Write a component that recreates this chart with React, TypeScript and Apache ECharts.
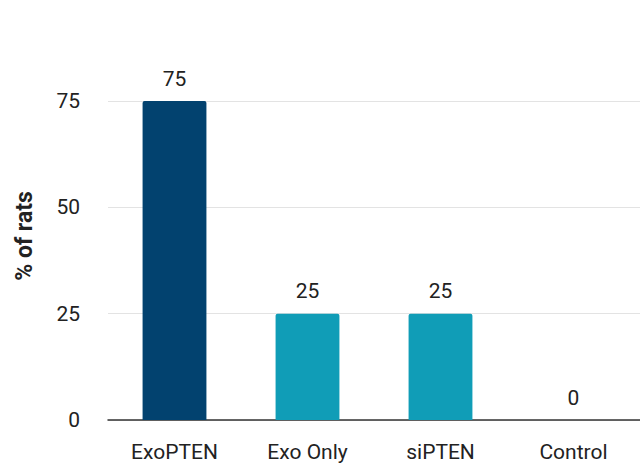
import React, { useEffect, useRef } from "react";
import * as echarts from "echarts";

const categories = ["ExoPTEN", "Exo Only", "siPTEN", "Control"];
const values = [75, 25, 25, 0];
const barColors = ["#02426f", "#109db7", "#109db7", "#109db7"];
const yTicks = [0, 25, 50, 75];
const yAxisTitle = "% of rats";

export default function App() {
  const ref = useRef<HTMLDivElement>(null);

  useEffect(() => {
    document.body.style.margin = "0";
    if (!ref.current) return;
    const chart = echarts.init(ref.current, null, { renderer: "svg" });
    chart.setOption({
      animation: false,
      backgroundColor: "#ffffff",
      textStyle: { fontFamily: "Roboto" },
      grid: { left: 108, right: 0, top: 101, bottom: 44, containLabel: false },
      graphic: [
        {
          type: "text",
          x: 24,
          y: 236,
          rotation: Math.PI / 2,
          style: {
            text: yAxisTitle,
            fill: "#222222",
            font: "bold 23px Roboto",
            align: "center",
            verticalAlign: "middle",
          },
        },
      ],
      xAxis: {
        type: "category",
        data: categories,
        axisTick: { show: false },
        axisLine: { lineStyle: { color: "#333333", width: 1.5 } },
        axisLabel: { color: "#222222", fontSize: 21, margin: 21 },
      },
      yAxis: {
        type: "value",
        min: yTicks[0],
        max: yTicks[yTicks.length - 1],
        interval: 25,
        axisLine: { show: false },
        axisTick: { show: false },
        axisLabel: { color: "#222222", fontSize: 21, margin: 28 },
        splitLine: { lineStyle: { color: "#e3e3e3", width: 1 } },
      },
      series: [
        {
          type: "bar",
          barWidth: "48%",
          data: values.map((v, i) => ({
            value: v,
            itemStyle: { color: barColors[i], borderRadius: [2, 2, 0, 0] },
          })),
          label: {
            show: true,
            position: "top",
            distance: 12,
            color: "#222222",
            fontSize: 21,
          },
        },
      ],
    });
    return () => chart.dispose();
  }, []);

  return <div ref={ref} style={{ width: 640, height: 464 }} />;
}
